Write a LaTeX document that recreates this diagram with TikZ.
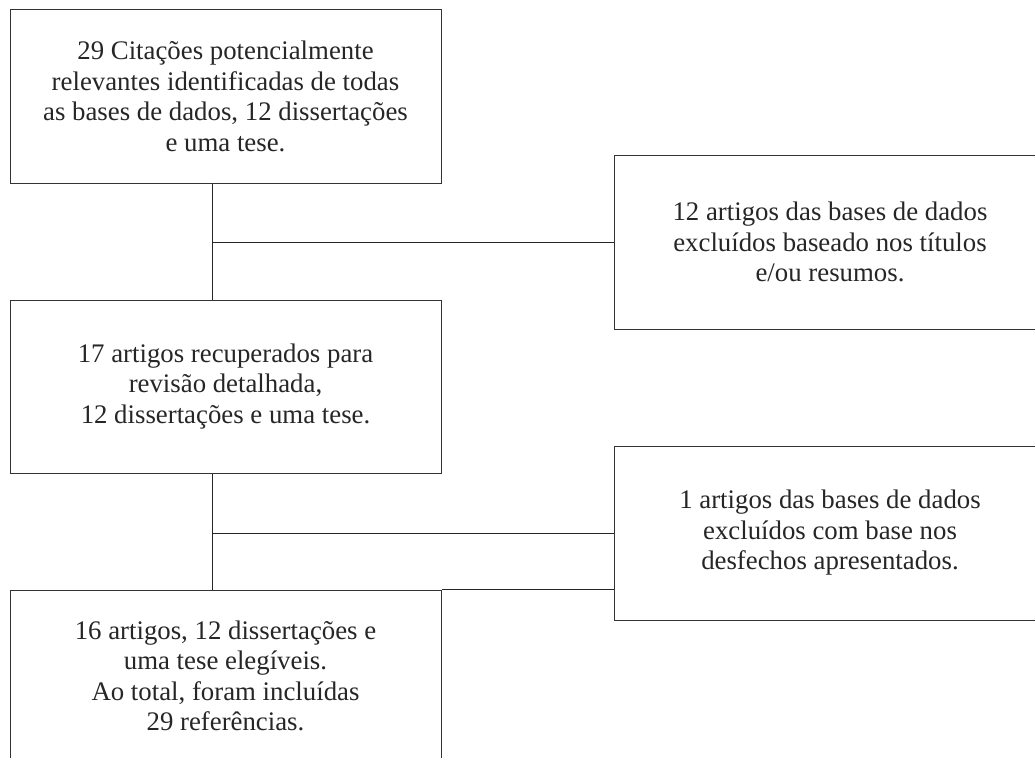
\documentclass[tikz,border=0pt]{standalone}
\usepackage{fontspec}
\setmainfont{Liberation Serif}
\begin{document}
\begin{tikzpicture}[x=1pt,y=1pt,
  box/.style={draw=black!80, line width=1pt, align=center, inner sep=0pt,
    font=\fontsize{26.8}{30.5}\selectfont, text=black!85},
  conn/.style={draw=black!85, line width=1pt}]
\useasboundingbox (0,0) rectangle (1035,-757);
\clip (0,0) rectangle (1035,-757);
\node[box, minimum width=431, minimum height=173] (b1) at (225.5,-96.5)
  {29 Citações potencialmente\\relevantes identificadas de todas\\as bases de dados, 12 dissertações\\e uma tese.};
\node[box, minimum width=432, minimum height=174] (b2) at (830,-242)
  {12 artigos das bases de dados\\excluídos baseado nos títulos\\e/ou resumos.};
\node[box, minimum width=431, minimum height=173] (b3) at (225.5,-386.5)
  {17 artigos recuperados para\\revisão detalhada,\\12 dissertações e uma tese.};
\node[box, minimum width=432, minimum height=174] (b4) at (830,-533)
  {1 artigos das bases de dados\\excluídos com base nos\\desfechos apresentados.};
\node[box, minimum width=431, minimum height=172] (b5) at (225.5,-676)
  {16 artigos, 12 dissertações e\\uma tese elegíveis.\\Ao total, foram incluídas\\29 referências.};
\coordinate (j1) at (212,-242);
\coordinate (j2) at (212,-533);
\draw[conn] (b1.south -| j1) -- (b3.north -| j1);
\draw[conn] (j1) -- (j1 -| b2.west);
\draw[conn] (b3.south -| j2) -- (b5.north -| j2);
\draw[conn] (j2) -- (j2 -| b4.west);
\draw[conn] (b5.north east) -- (b5.north -| b4.west);
\end{tikzpicture}
\end{document}
